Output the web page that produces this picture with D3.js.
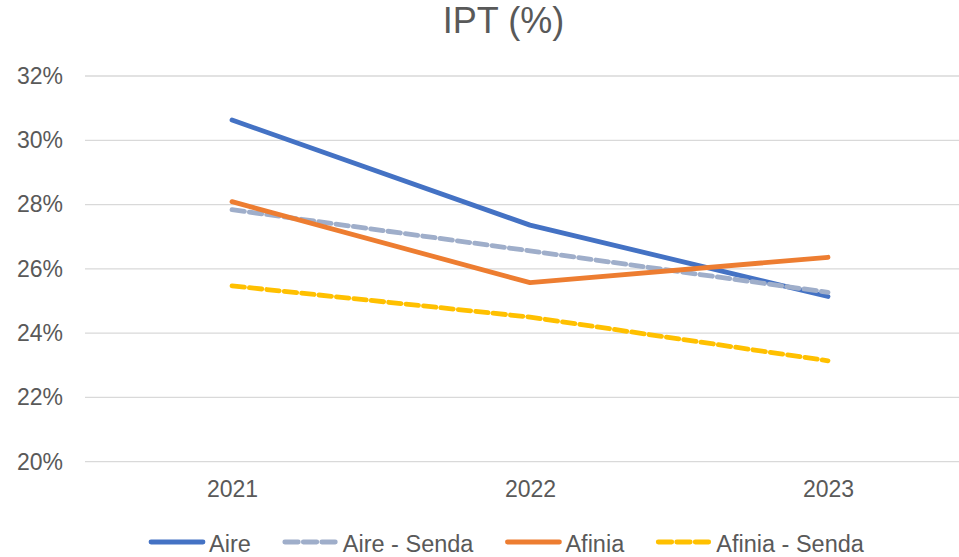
<!DOCTYPE html>
<html><head><meta charset="utf-8">
<script src="https://cdn.jsdelivr.net/npm/d3@7"></script>
<style>body{margin:0;background:#fff}svg{display:block;font-family:Arial,"Liberation Sans",sans-serif}</style>
</head><body><svg id="c" width="959" height="557"></svg>
<script>
const title = "IPT (%)";
const years = ["2021", "2022", "2023"];
const yTicks = [0.20, 0.22, 0.24, 0.26, 0.28, 0.30, 0.32];
const seriesNames = ["Aire", "Aire - Senda", "Afinia", "Afinia - Senda"];
const aire = [0.3063, 0.2736, 0.2514];
const aireSenda = [0.2784, 0.2656, 0.2527];
const afinia = [0.2809, 0.2557, 0.2636];
const afiniaSenda = [0.2547, 0.2450, 0.2314];
const colors = ["#4472C4", "#9FAECA", "#ED7D31", "#FFC000"];
const dashed = [false, true, false, true];
const seriesValues = [aire, aireSenda, afinia, afiniaSenda];

const svg = d3.select("#c");
const x = d3.scalePoint().domain(years).range([232, 828]);
const y = d3.scaleLinear().domain([0.20, 0.32]).range([461.7, 76]);
const FONT = "Arial, 'Liberation Sans', sans-serif";

// gridlines
svg.append("g").selectAll("line").data(yTicks).join("line")
  .attr("x1", 85).attr("x2", 959)
  .attr("y1", d => y(d)).attr("y2", d => y(d))
  .attr("stroke", "#D9D9D9").attr("stroke-width", 1.3);

// y axis
const yAxis = svg.append("g").attr("transform", "translate(70,0)")
  .call(d3.axisLeft(y).tickValues(yTicks).tickFormat(d3.format(".0%")).tickSize(0).tickPadding(7));
yAxis.select(".domain").remove();
yAxis.selectAll("text").attr("font-size", 23).attr("fill", "#595959").attr("font-family", FONT);

// x axis
const xAxis = svg.append("g").attr("transform", "translate(0,462)")
  .call(d3.axisBottom(x).tickSize(0).tickPadding(19));
xAxis.select(".domain").remove();
xAxis.selectAll("text").attr("font-size", 23).attr("fill", "#595959").attr("font-family", FONT);

// title
svg.append("text").attr("x", 503.5).attr("y", 33).attr("text-anchor", "middle")
  .attr("font-size", 36).attr("fill", "#595959").text(title);

// lines
const line = d3.line().x((d, i) => x(years[i])).y(d => y(d));
seriesValues.forEach((vals, k) => {
  svg.append("path").datum(vals).attr("d", line)
    .attr("fill", "none").attr("stroke", colors[k]).attr("stroke-width", 4.8)
    .attr("stroke-linecap", "round").attr("stroke-linejoin", "round")
    .attr("stroke-dasharray", dashed[k] ? "12.5,5" : null);
});

// legend
const lg = svg.append("g");
let lx = 149;
const ly = 542;
seriesNames.forEach((name, k) => {
  lg.append("line").attr("x1", lx + 2).attr("x2", lx + 54).attr("y1", ly).attr("y2", ly)
    .attr("stroke", colors[k]).attr("stroke-width", 4.8).attr("stroke-linecap", "round")
    .attr("stroke-dasharray", dashed[k] ? "13.5,5" : null);
  const t = lg.append("text").attr("x", lx + 60).attr("y", ly + 9.5)
    .attr("font-size", 23.5).attr("fill", "#595959").text(name);
  lx += 60 + t.node().getComputedTextLength() + 32;
});
</script></body></html>
